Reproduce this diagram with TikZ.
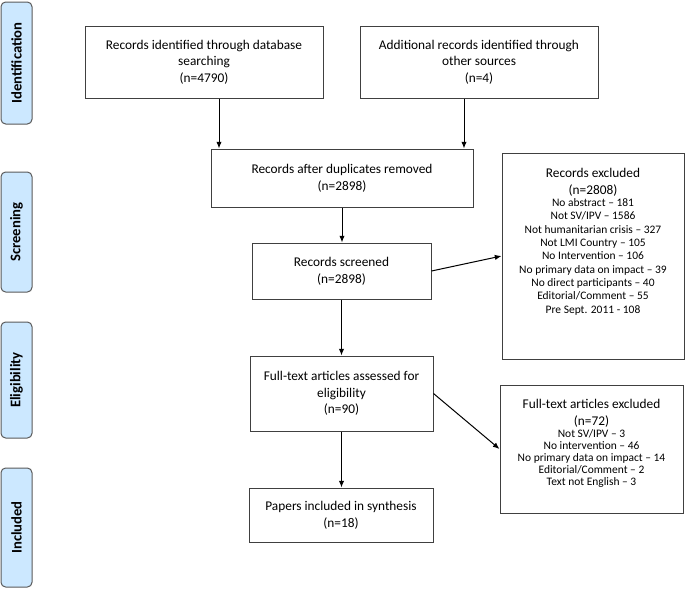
\documentclass[tikz,border=0pt]{standalone}
\usepackage{fontspec}
\setmainfont{Carlito}
\usetikzlibrary{arrows.meta}
\newcommand{\pxu}{0.75pt}
\definecolor{PRblau}{HTML}{CCE8FF}
\definecolor{PRgrau}{HTML}{404040}
\definecolor{PRrand}{HTML}{5A5A5A}
\newcommand{\titlefont}{\fontsize{10}{12.5}\selectfont}
\newcommand{\listfont}{\fontsize{8.6}{10}\selectfont}
\newcommand{\phase}[4]{%
  \node[phasebox, minimum width=#3*\pxu] (#1) at (16.5,#2) {#4};}
\tikzset{
  box/.style={draw=PRgrau, line width=0.75pt, inner sep=0pt,
    align=center, font=\titlefont},
  phasebox/.style={draw=PRrand, fill=PRblau, line width=0.75pt,
    rounded corners=3.5pt, rotate=90, minimum height=31*\pxu,
    inner sep=0pt, font=\fontsize{11}{13}\selectfont\bfseries},
  liste/.style={inner sep=0pt, align=center, anchor=north},
  arr/.style={-{Latex[length=5pt,width=4pt]}, line width=0.75pt},
}

\begin{document}
\begin{tikzpicture}[x=0.75pt, y=-0.75pt]
\useasboundingbox (0,0) rectangle (685,590);

% ====================================================================
%
%         Phasen
%
% ====================================================================

  \phase{phident}{63}{122}{Identification}
  \phase{phscreen}{232}{120}{Screening}
  \phase{phelig}{380}{116}{Eligibility}
  \phase{phincl}{527.5}{119}{Included}

% ====================================================================
%
%         Kaesten
%
% ====================================================================

  % Identifikation
  \node[box, minimum width=238*\pxu, minimum height=72*\pxu] (dbsearch) at (204,62)
    {Records identified through database\\searching\\(n=4790)};
  \node[box, minimum width=238*\pxu, minimum height=72*\pxu] (other) at (479,62)
    {Additional records identified through\\other sources\\(n=4)};

  % Screening
  \node[box, minimum width=262*\pxu, minimum height=58*\pxu] (dup) at (342,178)
    {Records after duplicates removed\\(n=2898)};
  \node[box, minimum width=179*\pxu, minimum height=56*\pxu] (screened) at (341.5,271)
    {Records screened\\(n=2898)};

  \node[box, minimum width=182*\pxu, minimum height=206*\pxu] (excl1) at (593,256) {};
  \node[liste, font=\titlefont] (excl1head) at ([yshift=-15.5*\pxu]excl1.north)
    {Records excluded\\(n=2808)};
  \node[liste, font=\listfont] (excl1list) at ([yshift=-2*\pxu]excl1head.south)
    {No abstract – 181\\Not SV/IPV – 1586\\Not humanitarian crisis – 327\\
     Not LMI Country – 105\\No Intervention – 106\\No primary data on impact – 39\\
     No direct participants – 40\\Editorial/Comment – 55\\Pre Sept. 2011 - 108};

  % Eignung
  \node[box, minimum width=183*\pxu, minimum height=75*\pxu] (fulltext) at (341.5,393.5)
    {Full-text articles assessed for\\eligibility\\(n=90)};

  \node[box, minimum width=183*\pxu, minimum height=128*\pxu] (excl2) at (591.5,449) {};
  \node[liste, font=\titlefont] (excl2head) at ([yshift=-14.5*\pxu]excl2.north)
    {Full-text articles excluded\\(n=72)};
  \node[liste, font=\fontsize{8.6}{9}\selectfont] (excl2list) at ([yshift=-2*\pxu]excl2head.south)
    {Not SV/IPV – 3\\No intervention – 46\\No primary data on impact – 14\\
     Editorial/Comment – 2\\Text not English – 3};

  % Eingeschlossen
  \node[box, minimum width=184*\pxu, minimum height=54*\pxu] (incl) at (341,515)
    {Papers included in synthesis\\(n=18)};

% ====================================================================
%
%         Pfeile
%
% ====================================================================

  \draw[arr] ([xshift=15*\pxu]dbsearch.south) -- ([xshift=15*\pxu]dbsearch.south |- dup.north);
  \draw[arr] ([xshift=-15*\pxu]other.south) -- ([xshift=-15*\pxu]other.south |- dup.north);
  \draw[arr] (dup.south) -- (dup.south |- screened.north);
  \draw[arr] (screened.south) -- (screened.south |- fulltext.north);
  \draw[arr] (fulltext.south) -- (fulltext.south |- incl.north);
  \draw[arr] (screened.east) -- (excl1.west);
  \draw[arr] (fulltext.east) -- (excl2.west);

\end{tikzpicture}
\end{document}
